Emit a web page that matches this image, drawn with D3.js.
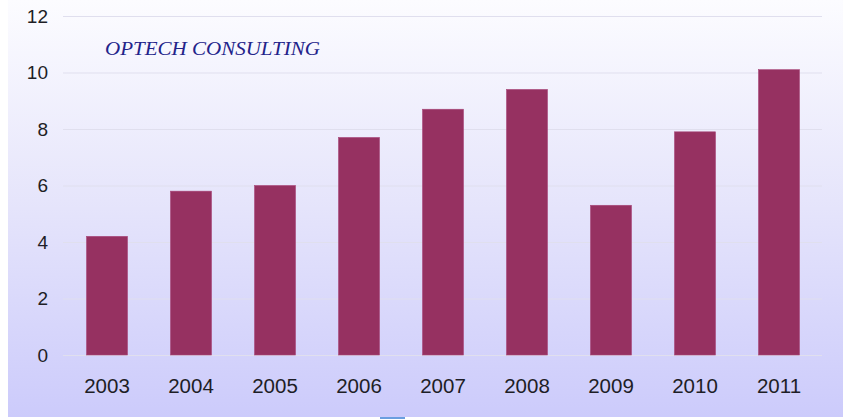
<!DOCTYPE html>
<html>
<head>
<meta charset="utf-8">
<script src="https://cdn.jsdelivr.net/npm/d3@7"></script>
<style>
  body { margin: 0; background: #fff; }
  svg { display: block; }
</style>
</head>
<body>
<div id="chart"></div>
<script>
const years = ['2003', '2004', '2005', '2006', '2007', '2008', '2009', '2010', '2011'];
const values = [4.2, 5.8, 6.0, 7.7, 8.7, 9.4, 5.3, 7.9, 10.1];
const yTicks = [0, 2, 4, 6, 8, 10, 12];
const title = 'OPTECH CONSULTING';

const W = 843, H = 419;
const plot = { left: 64, right: 822, top: 16, bottom: 355 };

const svg = d3.select('#chart').append('svg')
  .attr('width', W)
  .attr('height', H);

// background gradient panel
const grad = svg.append('defs').append('linearGradient')
  .attr('id', 'bg')
  .attr('x1', 0).attr('y1', 0).attr('x2', 0).attr('y2', 1);
grad.selectAll('stop')
  .data([
    { offset: '0%', color: '#fcfcff' },
    { offset: '50%', color: '#e5e4fb' },
    { offset: '100%', color: '#cccbfb' },
  ])
  .enter().append('stop')
  .attr('offset', d => d.offset)
  .attr('stop-color', d => d.color);

svg.append('rect')
  .attr('x', 8).attr('y', 0)
  .attr('width', W - 8).attr('height', 417)
  .attr('fill', 'url(#bg)');

const x = d3.scaleBand()
  .domain(years)
  .range([plot.left, plot.right])
  .paddingInner(0.512)
  .paddingOuter(0.268);

const y = d3.scaleLinear()
  .domain([0, 12])
  .range([plot.bottom, plot.top]);

// gridlines
svg.append('g')
  .selectAll('line')
  .data(yTicks)
  .enter().append('line')
  .attr('x1', 63)
  .attr('x2', plot.right)
  .attr('y1', d => y(d) + 0.5)
  .attr('y2', d => y(d) + 0.5)
  .attr('stroke', '#e0dfee')
  .attr('stroke-width', 1);

// y axis labels
const yAxis = svg.append('g')
  .attr('transform', 'translate(48,0)')
  .call(d3.axisLeft(y).tickValues(yTicks).tickSize(0).tickPadding(0));
yAxis.select('.domain').remove();
yAxis.selectAll('text')
  .attr('fill', '#1e1e26')
  .style('font-family', '"Liberation Sans", Arial, sans-serif')
  .style('font-size', '19px');

// bars
svg.append('g')
  .selectAll('rect')
  .data(values)
  .enter().append('rect')
  .attr('x', (d, i) => x(years[i]))
  .attr('y', d => y(d))
  .attr('width', x.bandwidth())
  .attr('height', d => y(0) - y(d))
  .attr('fill', '#963161')
  .attr('stroke', '#a8477a')
  .attr('stroke-width', 0.6);

// x axis labels
const xAxis = svg.append('g')
  .attr('transform', `translate(0,${plot.bottom})`)
  .call(d3.axisBottom(x).tickSize(0).tickPadding(23));
xAxis.select('.domain').remove();
xAxis.selectAll('text')
  .attr('fill', '#1e1e26')
  .style('font-family', '"Liberation Sans", Arial, sans-serif')
  .style('font-size', '20.5px');

// title
svg.append('text')
  .attr('x', 105)
  .attr('y', 55)
  .attr('textLength', 215)
  .attr('lengthAdjust', 'spacingAndGlyphs')
  .attr('fill', '#23238a')
  .style('font-family', '"Liberation Serif", "Times New Roman", serif')
  .style('font-style', 'italic')
  .style('font-size', '18.5px')
  .text(title);

// small blue marker at the bottom edge
svg.append('rect')
  .attr('x', 380).attr('y', 417)
  .attr('width', 25).attr('height', 2)
  .attr('fill', '#6a9ee0');
</script>
</body>
</html>
